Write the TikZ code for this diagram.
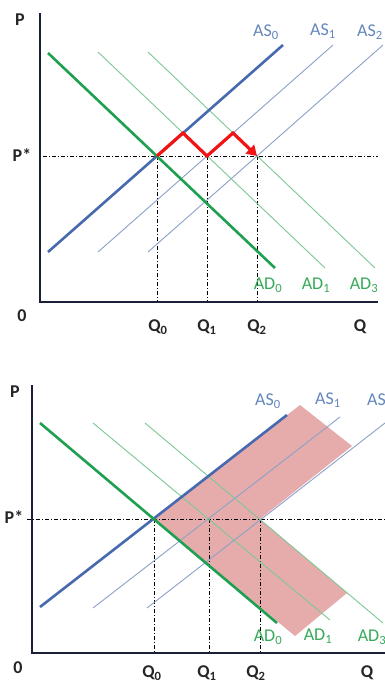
\documentclass[tikz,border=0pt]{standalone}
\usepackage{fontspec}
\setmainfont{Carlito}
\usetikzlibrary{arrows.meta, positioning}
\definecolor{asblue}{RGB}{70, 105, 175}
\definecolor{asthin}{RGB}{140, 160, 200}
\definecolor{aslbl}{RGB}{100, 135, 190}
\definecolor{adgreen}{RGB}{30, 160, 80}
\definecolor{adthin}{RGB}{125, 200, 150}
\definecolor{adlbl}{RGB}{55, 170, 90}
\definecolor{shiftred}{RGB}{240, 20, 20}
\definecolor{bandpink}{RGB}{230, 172, 172}
\definecolor{axisdark}{RGB}{25, 32, 55}

\begin{document}
\fontsize{18}{20}\selectfont
\begin{tikzpicture}[
    x=1pt, y=-1pt,
    axisline/.style={line width=2.6pt, draw=axisdark},
    supply/.style={line width=2.6pt, draw=asblue},
    supplyshift/.style={line width=0.9pt, draw=asthin},
    demand/.style={line width=2.6pt, draw=adgreen},
    demandshift/.style={line width=0.9pt, draw=adthin},
    guide/.style={line width=0.8pt, dash pattern=on 4pt off 2pt on 1pt off 2pt},
    adjust/.style={line width=3.2pt, draw=shiftred, -{Triangle[length=10pt,width=12pt]}},
    band/.style={fill=bandpink},
    axlabel/.style={font=\bfseries, text=black!85},
    aslabel/.style={text=aslbl},
    adlabel/.style={text=adlbl}
]
    \fill[white] (0,0) rectangle (385,686);
    \useasboundingbox (0,0) rectangle (385,686);

    % ---------- Top panel ----------
    \coordinate (o) at (40,302);
    \coordinate (ytop) at (40,13);
    \coordinate (xend) at (378,302);
    \coordinate (pl) at (43,156);
    \coordinate (pr) at (378,156);
    \coordinate (e0) at (157,156);
    \coordinate (e1) at (207,156);
    \coordinate (e2) at (257,156);
    \coordinate (k1) at (183,133);
    \coordinate (k2) at (233,133);

    % Guides
    \draw[guide] (pl) -- (pr);
    \draw[guide] (e0) -- (e0 |- o);
    \draw[guide] (e1) -- (e1 |- o);
    \draw[guide] (e2) -- (e2 |- o);

    % Curves
    \draw[supplyshift] (98,252) -- (333,45);
    \draw[supplyshift] (148,252) -- (383,45);
    \draw[demandshift] (98,52) -- (325,268);
    \draw[demandshift] (148,52) -- (375,268);
    \draw[supply] (48,252) -- (283,45);
    \draw[demand] (48,53) -- (275,268);

    % Axes
    \draw[axisline] (ytop) -- (o) -- (xend);

    % Adjustment path
    \draw[adjust] (e0) -- (k1) -- (e1) -- (k2) -- (e2);

    % Labels
    \node[axlabel] (p) at (20,20) {P};
    \node[axlabel] (pstar) at (22,155) {P*};
    \node[axlabel] (zero) at (22,316) {0};
    \node[axlabel] (q0) at (158,327) {Q\textsubscript{0}};
    \node[axlabel] (q1) at (207,327) {Q\textsubscript{1}};
    \node[axlabel] (q2) at (257,327) {Q\textsubscript{2}};
    \node[axlabel] (q) at (360,327) {Q};
    \node[aslabel] (as0) at (266,32) {AS\textsubscript{0}};
    \node[aslabel] (as1) at (323,31) {AS\textsubscript{1}};
    \node[aslabel] (as2) at (370,32) {AS\textsubscript{2}};
    \node[adlabel] (ad0) at (268,285) {AD\textsubscript{0}};
    \node[adlabel] (ad1) at (316,285) {AD\textsubscript{1}};
    \node[adlabel] (ad3) at (364,285) {AD\textsubscript{3}};

    % ---------- Bottom panel ----------
    \coordinate (bo) at (32,653);
    \coordinate (bytop) at (32,385);
    \coordinate (bxend) at (388,653);
    \coordinate (bpl) at (27,519);
    \coordinate (bpr) at (385,519);
    \coordinate (f0) at (154,519);
    \coordinate (f1) at (209,519);
    \coordinate (f2) at (260,519);
    \coordinate (t1) at (300,405);
    \coordinate (t2) at (352,446);
    \coordinate (b2) at (347,593);
    \coordinate (b1) at (295,636);

    % Band
    \fill[band] (f0) -- (t1) -- (t2) -- (f2) -- (b2) -- (b1) -- cycle;

    % Guides
    \draw[guide] (bpl) -- (bpr);
    \draw[guide] (f0) -- (f0 |- bo);
    \draw[guide] (f1) -- (f1 |- bo);
    \draw[guide] (f2) -- (f2 |- bo);

    % Curves
    \draw[supplyshift] (93,608) -- (340,417);
    \draw[supplyshift] (147,608) -- (394,416);
    \draw[demandshift] (93,423) -- (330,620);
    \draw[demandshift] (145,423) -- (383,623);
    \draw[supply] (40,607) -- (287,415);
    \draw[demand] (40,423) -- (277,623);

    % Axes
    \draw[axisline] (bytop) -- (bo) -- (bxend);

    % Labels
    \node[axlabel] (bp) at (15,392) {P};
    \node[axlabel] (bpstar) at (14,517) {P*};
    \node[axlabel] (bzero) at (18,668) {0};
    \node[axlabel] (bq0) at (152,673) {Q\textsubscript{0}};
    \node[axlabel] (bq1) at (207,673) {Q\textsubscript{1}};
    \node[axlabel] (bq2) at (256,673) {Q\textsubscript{2}};
    \node[axlabel] (bq) at (367,673) {Q};
    \node[aslabel] (bas0) at (268,401) {AS\textsubscript{0}};
    \node[aslabel] (bas1) at (328,400) {AS\textsubscript{1}};
    \node[aslabel] (bas2) at (380,401) {AS\textsubscript{2}};
    \node[adlabel] (bad0) at (268,637) {AD\textsubscript{0}};
    \node[adlabel] (bad1) at (318,636) {AD\textsubscript{1}};
    \node[adlabel] (bad3) at (372,637) {AD\textsubscript{3}};
\end{tikzpicture}
\end{document}
